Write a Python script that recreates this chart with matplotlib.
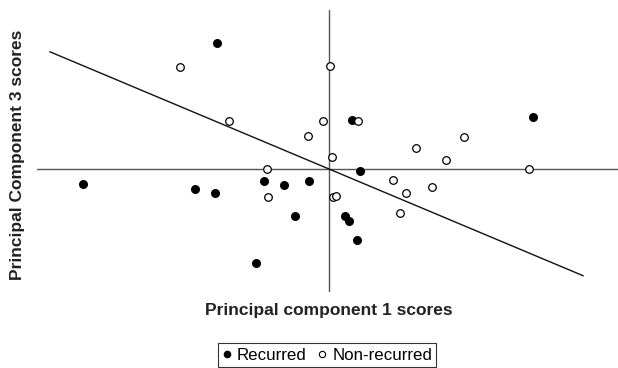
import matplotlib
matplotlib.use("Agg")
import matplotlib.pyplot as plt
from matplotlib.lines import Line2D

plt.rcParams["font.family"] = ["Liberation Sans", "DejaVu Sans"]

# PCA scores (PC1, PC3)
recurred_pc1 = [-2.24, -4.92, -2.68, -2.28, -1.30, -0.90, -0.40, -0.68, -1.46,
                0.46, 4.08, 0.62, 0.32, 0.40, 0.56]
recurred_pc3 = [2.52, -0.30, -0.40, -0.48, -0.24, -0.32, -0.24, -0.94, -1.88,
                0.98, 1.04, -0.04, -0.94, -1.04, -1.42]

nonrec_pc1 = [-2.98, -2.00, -0.42, -1.24, -1.22, 0.02, -0.12, 0.58, 0.06, 1.74,
              2.70, 2.34, 4.00, 1.28, 1.54, 2.06, 1.42, 0.08, 0.14]
nonrec_pc3 = [2.04, 0.96, 0.66, 0.00, -0.56, 2.06, 0.96, 0.96, 0.24, 0.42,
              0.64, 0.18, 0.00, -0.22, -0.48, -0.36, -0.88, -0.56, -0.54]

# separating line through the origin
sep_x = [-5.58, 5.08]
sep_slope = -0.42

fig = plt.figure(figsize=(6.18, 3.68), dpi=100)
ax = fig.add_axes([37 / 618, 1 - 292 / 368, 581 / 618, 282 / 368])
ax.set_xlim(-5.84, 5.78)
ax.set_ylim(-2.46, 3.18)
ax.axis("off")

ax.axhline(0, color="#555555", linewidth=1.0, zorder=1)
ax.axvline(0, color="#555555", linewidth=1.0, zorder=1)
ax.plot(sep_x, [sep_slope * v for v in sep_x], color="#111111", linewidth=1.0, zorder=1)

ax.scatter(recurred_pc1, recurred_pc3, s=30, color="black", zorder=3)
ax.scatter(nonrec_pc1, nonrec_pc3, s=30, facecolor="white", edgecolor="black",
           linewidth=0.9, zorder=3)

fig.text(18 / 618, 1 - 155 / 368, "Principal Component 3 scores", rotation=90,
         ha="center", va="center", fontsize=12.5, fontweight="bold", color="#222222")
fig.text(329 / 618, 1 - 311 / 368, "Principal component 1 scores",
         ha="center", va="center", fontsize=12.5, fontweight="bold", color="#222222")

handles = [
    Line2D([], [], marker="o", linestyle="none", markersize=4.5, color="black"),
    Line2D([], [], marker="o", linestyle="none", markersize=4.5,
           markerfacecolor="white", markeredgecolor="black", markeredgewidth=0.8),
]
leg = fig.legend(handles, ["Recurred", "Non-recurred"], ncol=2, loc="center",
                 bbox_to_anchor=(327 / 618, 1 - 355 / 368), fontsize=12.2,
                 frameon=True, fancybox=False, handlelength=0.6,
                 handletextpad=0.3, columnspacing=0.6, borderpad=0.25,
                 borderaxespad=0)
leg.get_frame().set_edgecolor("black")
leg.get_frame().set_linewidth(0.8)

fig.savefig("out.png", dpi=100)
